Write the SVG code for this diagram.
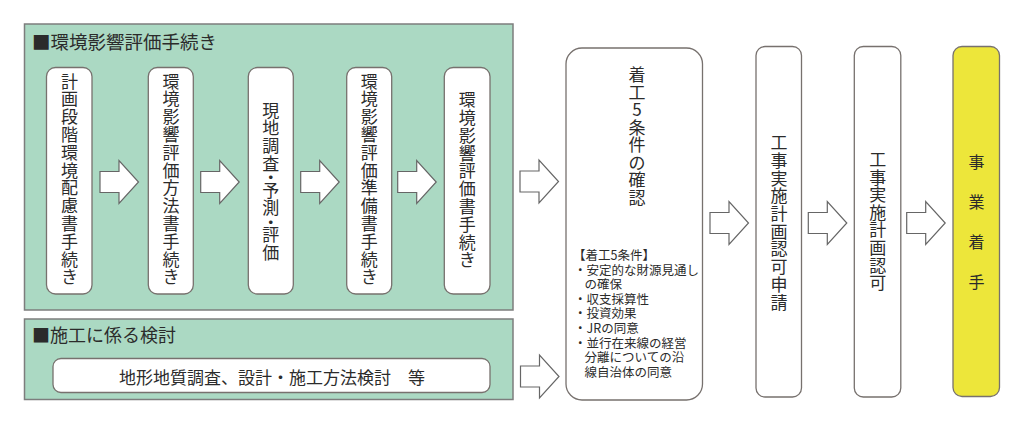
<svg xmlns="http://www.w3.org/2000/svg" width="1024" height="423" viewBox="0 0 1024 423">
<style>
.grp{fill:#abd9c3;stroke:#7d7d7d;stroke-width:1.5}
.box{fill:#fff;stroke:#77716e;stroke-width:1.3}
.yel{fill:#ede63a;stroke:#77716e;stroke-width:1.3}
.arr{fill:#fff;stroke:#666;stroke-width:1.2;stroke-linejoin:miter}
text{font-family:"Noto Sans CJK JP","Noto Sans",sans-serif;fill:#2b2b2b}
.t{font-size:17px;text-anchor:middle}
.h{font-size:18.5px}
.m{font-size:17px}
.s{font-size:12.5px}
</style>
<defs>
<path id="a" d="M0,-10.5H19V-21.5L38.5,0L19,21.5V10.5H0Z"/>
</defs>
<rect width="1024" height="423" fill="#fff"/>

<g id="env-group">
<rect class="grp" x="24.5" y="24" width="488.5" height="286"/>
<text class="h" x="32" y="48.7">■環境影響評価手続き</text>
</g>

<g id="con-group">
<rect class="grp" x="24.5" y="319" width="488.5" height="80.5"/>
<text class="h" x="32" y="341.8" style="font-size:18px">■施工に係る検討</text>
</g>

<g id="n1">
<rect class="box" x="46.5" y="67.5" width="45.5" height="226.5" rx="9"/>
<text class="t"><tspan x="69.5" y="87.5">計</tspan><tspan x="69.5" y="105.3">画</tspan><tspan x="69.5" y="123.1">段</tspan><tspan x="69.5" y="140.9">階</tspan><tspan x="69.5" y="158.7">環</tspan><tspan x="69.5" y="176.5">境</tspan><tspan x="69.5" y="194.3">配</tspan><tspan x="69.5" y="212.1">慮</tspan><tspan x="69.5" y="229.9">書</tspan><tspan x="69.5" y="247.7">手</tspan><tspan x="69.5" y="265.5">続</tspan><tspan x="69.5" y="283.3">き</tspan></text>
</g>

<g id="n2">
<rect class="box" x="148.3" y="67.5" width="45" height="226.5" rx="9"/>
<text class="t"><tspan x="171" y="87.5">環</tspan><tspan x="171" y="105.3">境</tspan><tspan x="171" y="123.1">影</tspan><tspan x="171" y="140.9">響</tspan><tspan x="171" y="158.7">評</tspan><tspan x="171" y="176.5">価</tspan><tspan x="171" y="194.3">方</tspan><tspan x="171" y="212.1">法</tspan><tspan x="171" y="229.9">書</tspan><tspan x="171" y="247.7">手</tspan><tspan x="171" y="265.5">続</tspan><tspan x="171" y="283.3">き</tspan></text>
</g>

<g id="n3">
<rect class="box" x="248.3" y="67.5" width="45" height="226.5" rx="9"/>
<text class="t"><tspan x="270.8" y="116.5">現</tspan><tspan x="270.8" y="134.3">地</tspan><tspan x="270.8" y="152.1">調</tspan><tspan x="270.8" y="169.9">査</tspan><tspan x="270.8" y="184.1">・</tspan><tspan x="270.8" y="196.6">予</tspan><tspan x="270.8" y="214.4">測</tspan><tspan x="270.8" y="228.6">・</tspan><tspan x="270.8" y="241.1">評</tspan><tspan x="270.8" y="258.9">価</tspan></text>
</g>

<g id="n4">
<rect class="box" x="346.7" y="67.5" width="45" height="226.5" rx="9"/>
<text class="t"><tspan x="369.2" y="87.5">環</tspan><tspan x="369.2" y="105.3">境</tspan><tspan x="369.2" y="123.1">影</tspan><tspan x="369.2" y="140.9">響</tspan><tspan x="369.2" y="158.7">評</tspan><tspan x="369.2" y="176.5">価</tspan><tspan x="369.2" y="194.3">準</tspan><tspan x="369.2" y="212.1">備</tspan><tspan x="369.2" y="229.9">書</tspan><tspan x="369.2" y="247.7">手</tspan><tspan x="369.2" y="265.5">続</tspan><tspan x="369.2" y="283.3">き</tspan></text>
</g>

<g id="n5">
<rect class="box" x="444.3" y="67.5" width="45.7" height="226.5" rx="9"/>
<text class="t"><tspan x="467.2" y="106.2">環</tspan><tspan x="467.2" y="124">境</tspan><tspan x="467.2" y="141.8">影</tspan><tspan x="467.2" y="159.6">響</tspan><tspan x="467.2" y="177.4">評</tspan><tspan x="467.2" y="195.2">価</tspan><tspan x="467.2" y="213">書</tspan><tspan x="467.2" y="230.8">手</tspan><tspan x="467.2" y="248.6">続</tspan><tspan x="467.2" y="266.4">き</tspan></text>
</g>

<g id="n6">
<rect class="box" x="53" y="358.5" width="437" height="34" rx="8"/>
<text class="m" x="119" y="384">地形地質調査、設計・施工方法検討　等</text>
</g>

<g id="n7">
<rect class="box" x="566" y="48" width="136.5" height="352" rx="16"/>
<text class="t"><tspan x="637" y="81">着</tspan><tspan x="637" y="98.5">工</tspan><tspan x="637" y="116">5</tspan><tspan x="637" y="133.5">条</tspan><tspan x="637" y="151">件</tspan><tspan x="637" y="168.5">の</tspan><tspan x="637" y="186">確</tspan><tspan x="637" y="203.5">認</tspan></text>
<text class="s" x="573" y="260">【着工5条件】</text>
<text class="s" x="574" y="274.6">・安定的な財源見通し</text>
<text class="s" x="584.5" y="289.2">の確保</text>
<text class="s" x="574" y="303.8">・収支採算性</text>
<text class="s" x="574" y="318.4">・投資効果</text>
<text class="s" x="574" y="333">・JRの同意</text>
<text class="s" x="574" y="347.6">・並行在来線の経営</text>
<text class="s" x="584.5" y="362.2">分離についての沿</text>
<text class="s" x="584.5" y="376.8">線自治体の同意</text>
</g>

<g id="n8">
<rect class="box" x="756" y="46.5" width="45.5" height="350.5" rx="9"/>
<text class="t"><tspan x="779" y="149.2">工</tspan><tspan x="779" y="166.9">事</tspan><tspan x="779" y="184.6">実</tspan><tspan x="779" y="202.3">施</tspan><tspan x="779" y="220">計</tspan><tspan x="779" y="237.7">画</tspan><tspan x="779" y="255.4">認</tspan><tspan x="779" y="273.1">可</tspan><tspan x="779" y="290.8">申</tspan><tspan x="779" y="308.5">請</tspan></text>
</g>

<g id="n9">
<rect class="box" x="854.3" y="46.5" width="46.5" height="350.5" rx="9"/>
<text class="t"><tspan x="877.8" y="166">工</tspan><tspan x="877.8" y="183.6">事</tspan><tspan x="877.8" y="201.2">実</tspan><tspan x="877.8" y="218.8">施</tspan><tspan x="877.8" y="236.4">計</tspan><tspan x="877.8" y="254">画</tspan><tspan x="877.8" y="271.6">認</tspan><tspan x="877.8" y="289.2">可</tspan></text>
</g>

<g id="n10">
<rect class="yel" x="953" y="46.5" width="46.5" height="350" rx="9"/>
<text class="t" style="font-size:16px"><tspan x="976.5" y="167.8">事</tspan><tspan x="976.5" y="208.1">業</tspan><tspan x="976.5" y="247.8">着</tspan><tspan x="976.5" y="287.8">手</tspan></text>
</g>

<g id="connectors">
<use href="#a" class="arr" x="100" y="182"/>
<use href="#a" class="arr" x="200.7" y="182"/>
<use href="#a" class="arr" x="300.7" y="182"/>
<use href="#a" class="arr" x="397.7" y="182"/>
<use href="#a" class="arr" x="520" y="181.5"/>
<use href="#a" class="arr" x="520.5" y="376.5"/>
<use href="#a" class="arr" x="710" y="223"/>
<use href="#a" class="arr" x="808.3" y="223"/>
<use href="#a" class="arr" x="906.7" y="223"/>
</g>
</svg>
